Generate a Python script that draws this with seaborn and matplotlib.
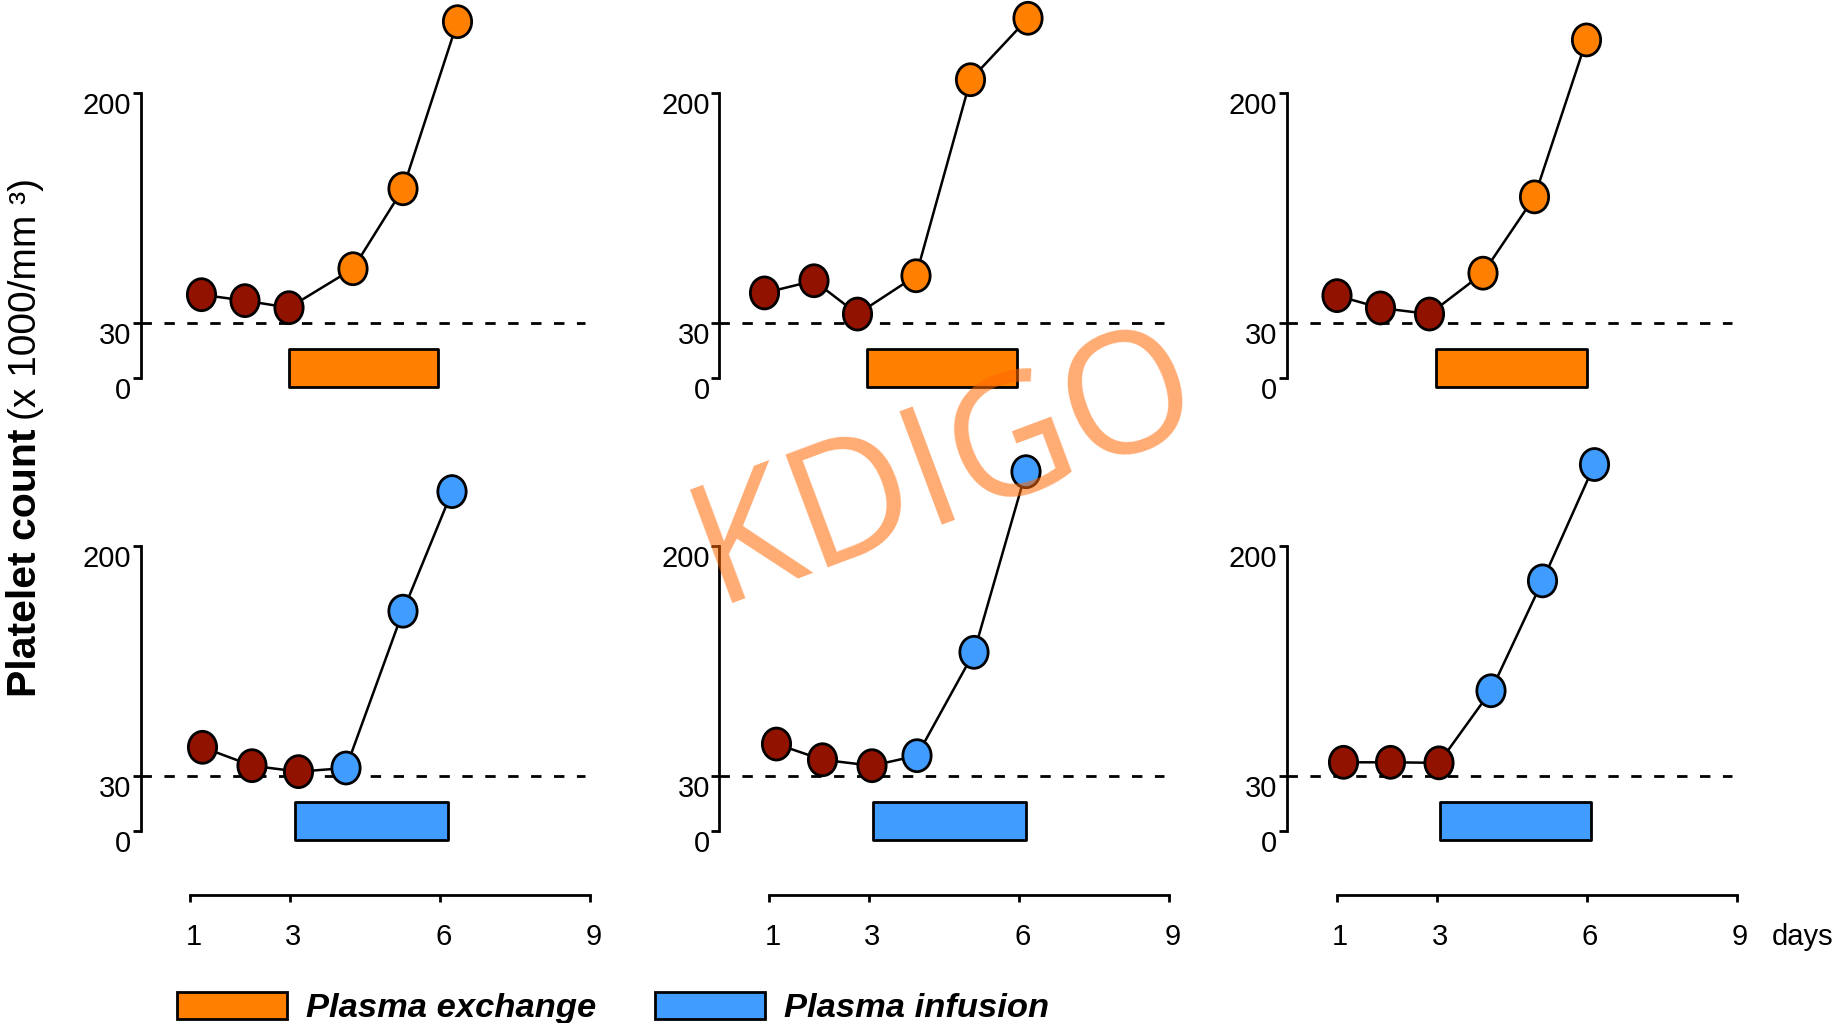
import numpy as np
import pandas as pd
import matplotlib
matplotlib.use("Agg")
import matplotlib.pyplot as plt
import seaborn as sns
from matplotlib.path import Path
from matplotlib.patches import Patch
from matplotlib.markers import MarkerStyle
from matplotlib.transforms import ScaledTranslation

sns.set_theme(style="white")
plt.rcParams["font.family"] = ["Liberation Sans", "DejaVu Sans"]
plt.rcParams["lines.scale_dashes"] = False
plt.rcParams["axes.edgecolor"] = "black"
plt.rcParams["text.color"] = "black"
plt.rcParams["axes.labelcolor"] = "black"
plt.rcParams["xtick.color"] = "black"
plt.rcParams["ytick.color"] = "black"

# ---- data -------------------------------------------------------------
DAY_TICKS = [1, 3, 6, 9]
COUNT_TICKS = [0, 30, 200]
THRESHOLD = 30
PHASE = ["before", "before", "before", "treated", "treated", "treated"]

# Plasma exchange patients (top row)
pe1_day = [1.22, 2.09, 2.97, 4.25, 5.25, 6.34]
pe1_count = [50.7, 46.3, 41.1, 69.9, 129.0, 252.5]
pe2_day = [0.90, 1.89, 2.76, 3.93, 5.02, 6.17]
pe2_count = [52.0, 61.0, 36.4, 64.7, 209.6, 255.0]
pe3_day = [1.00, 1.87, 2.85, 3.92, 4.95, 5.99]
pe3_count = [50.0, 40.9, 36.4, 66.6, 123.0, 239.0]
pe_window = [(2.97, 5.96), (2.95, 5.96), (2.99, 6.00)]

# Plasma infusion patients (bottom row)
pi1_day = [1.24, 2.23, 3.16, 4.11, 5.25, 6.23]
pi1_count = [51.0, 37.4, 33.0, 35.7, 151.6, 240.0]
pi2_day = [1.14, 2.06, 3.05, 3.95, 5.09, 6.13]
pi2_count = [53.4, 41.8, 37.4, 44.8, 121.2, 254.7]
pi3_day = [1.13, 2.07, 3.04, 4.08, 5.11, 6.15]
pi3_count = [39.9, 39.9, 39.5, 92.8, 174.0, 260.0]
pi_window = [(3.10, 6.15), (3.08, 6.13), (3.07, 6.07)]

LEGEND_LABELS = ["Plasma exchange", "Plasma infusion"]

# ---- style ------------------------------------------------------------
ORANGE = "#FF8000"
BLUE = "#409CFF"
DARK_RED = "#921200"

W, H, DPI = 1833, 1023, 100

# piecewise count axis: 0-30 stretched, 30-200 compressed
K_LOW = 55.0 / 30.0
K_HIGH = 230.0 / 170.0


def fwd(v):
    v = np.asarray(v, dtype=float)
    return np.where(v <= 30, v * K_LOW, 30 * K_LOW + (v - 30) * K_HIGH)


def inv(u):
    u = np.asarray(u, dtype=float)
    return np.where(u <= 30 * K_LOW, u / K_LOW, 30 + (u - 30 * K_LOW) / K_HIGH)


# elliptical marker, slightly taller than wide
circle = Path.unit_circle()
ELLIPSE = MarkerStyle(Path(circle.vertices * np.array([1.0, 1.13]), circle.codes))

fig = plt.figure(figsize=(W / DPI, H / DPI), dpi=DPI)

COL_LEFT = [140.5, 719.5, 1287.0]   # pixel of day 0
PX_PER_DAY = 50.0
X_MAX = 9.3
ROWS = [
    # (pixel of count 0, pixels below 0, pixels above 0)
    (377.7, 45.0, 380.0),
    (830.7, 64.3, 380.0),
]

panels = [
    [(pe1_day, pe1_count, pe_window[0]), (pe2_day, pe2_count, pe_window[1]), (pe3_day, pe3_count, pe_window[2])],
    [(pi1_day, pi1_count, pi_window[0]), (pi2_day, pi2_count, pi_window[1]), (pi3_day, pi3_count, pi_window[2])],
]
row_color = [ORANGE, BLUE]

for r, (zero_px, below, above) in enumerate(ROWS):
    for c in range(3):
        day, count, (t0, t1) = panels[r][c]
        left = COL_LEFT[c] / W
        width = X_MAX * PX_PER_DAY / W
        bottom = 1 - (zero_px + below) / H
        height = (below + above) / H
        ax = fig.add_axes([left, bottom, width, height])
        ax.set_facecolor("none")
        ax.set_yscale("function", functions=(fwd, inv))
        ax.set_xlim(0, X_MAX)
        ax.set_ylim(float(inv(-below)), float(inv(above)))

        df = pd.DataFrame({"day": day, "count": count, "phase": PHASE})

        ax.hlines(THRESHOLD, 0, 8.9, colors="black", linestyles=(0, (7.5, 9)),
                  linewidth=2, zorder=1)
        ax.broken_barh([(t0, t1 - t0)], (-4.8, 20.5), facecolors=row_color[r],
                       edgecolors="black", linewidth=2, zorder=2)
        sns.lineplot(data=df, x="day", y="count", color="black", linewidth=1.8,
                     sort=False, estimator=None, ax=ax, zorder=3)
        sns.scatterplot(data=df, x="day", y="count", hue="phase",
                        palette={"before": DARK_RED, "treated": row_color[r]},
                        marker=ELLIPSE, s=530, edgecolor="black", linewidth=2,
                        legend=False, ax=ax, zorder=4, clip_on=False)

        ax.set_xlabel("")
        ax.set_ylabel("")
        for side in ["top", "right"]:
            ax.spines[side].set_visible(False)
        ax.spines["left"].set_linewidth(2)
        ax.spines["left"].set_bounds(0, 200)
        ax.set_yticks(COUNT_TICKS)
        ax.set_yticklabels([str(t) for t in COUNT_TICKS])
        ax.tick_params(axis="y", left=True, direction="out", length=6, width=2,
                       pad=1, labelsize=21, colors="black")
        for t in ax.yaxis.get_major_ticks():
            t.label1.set_transform(t.label1.get_transform()
                                   + ScaledTranslation(0, -0.10, fig.dpi_scale_trans))

        if r == 1:
            ax.spines["bottom"].set_linewidth(2)
            ax.spines["bottom"].set_bounds(1, 9)
            ax.set_xticks(DAY_TICKS)
            ax.set_xticklabels([str(t) for t in DAY_TICKS])
            ax.tick_params(axis="x", bottom=True, direction="out", length=5,
                           width=2, pad=15, labelsize=21, colors="black")
            for t in ax.xaxis.get_major_ticks():
                t.label1.set_transform(t.label1.get_transform()
                                       + ScaledTranslation(0.03, 0, fig.dpi_scale_trans))
        else:
            ax.spines["bottom"].set_visible(False)
            ax.set_xticks([])

fig.text(1772 / W, 1 - 945 / H, "days", fontsize=21, ha="left", va="baseline")

# y-axis title: bold part followed by the unit in regular weight
renderer = fig.canvas.get_renderer()
bold = fig.text(36 / W, 1 - 697 / H, "Platelet count", rotation=90,
                rotation_mode="anchor", ha="left", va="baseline",
                fontsize=29.5, fontweight="bold")
bb = bold.get_window_extent(renderer)
fig.text(36 / W, (bb.y1 + 8) / H, "(x 1000/mm ³)", rotation=90,
         rotation_mode="anchor", ha="left", va="baseline", fontsize=28)

handles = [Patch(facecolor=ORANGE, edgecolor="black", linewidth=2),
           Patch(facecolor=BLUE, edgecolor="black", linewidth=2)]
fig.legend(handles, LEGEND_LABELS, ncol=2, loc="center left",
           bbox_to_anchor=(177 / W, 1 - 1008 / H), frameon=False,
           borderpad=0, borderaxespad=0, handlelength=3.2, handleheight=0.85,
           handletextpad=0.55, columnspacing=1.7,
           prop={"family": "Liberation Sans", "weight": "bold",
                 "style": "italic", "size": 24.8})

fig.text(946 / W, 1 - 470 / H, "KDIGO", fontsize=121, family="Open Sans",
         color="#FF6600", alpha=0.55, rotation=20.5, rotation_mode="anchor",
         ha="center", va="center", zorder=10)

fig.savefig("out.png", dpi=DPI)
